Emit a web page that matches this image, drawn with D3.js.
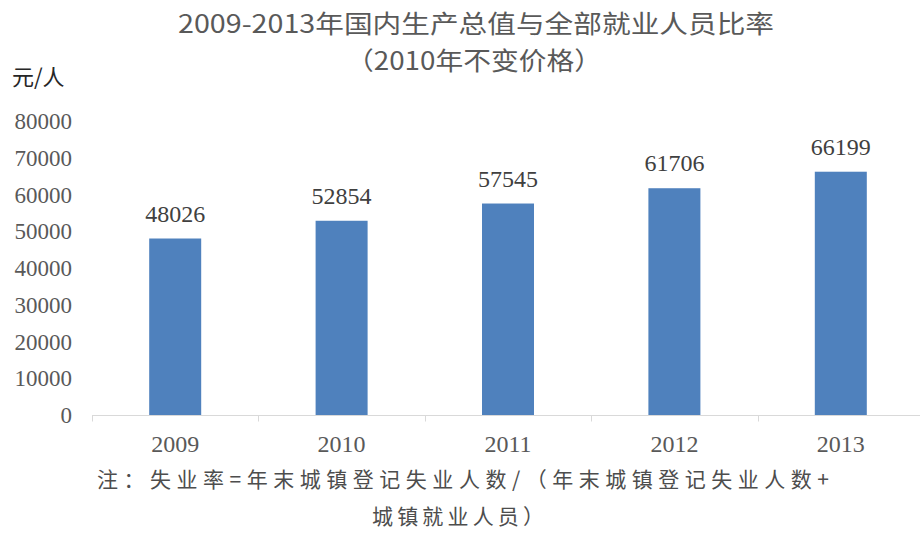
<!DOCTYPE html>
<html>
<head>
<meta charset="utf-8">
<script src="https://cdn.jsdelivr.net/npm/d3@7"></script>
<style>
  html, body { margin: 0; padding: 0; background: #fff; }
  svg { display: block; }
</style>
</head>
<body>
<svg id="chart" width="920" height="533"></svg>
<script>
const titleText = "2009-2013年国内生产总值与全部就业人员比率";
const subtitleText = "（2010年不变价格）";
const unitText = "元/人";
const noteLine1 = "注：失业率=年末城镇登记失业人数/（年末城镇登记失业人数+";
const noteLine2 = "城镇就业人员）";

const categories = ["2009", "2010", "2011", "2012", "2013"];
const values = [48026, 52854, 57545, 61706, 66199];
const yTicks = [0, 10000, 20000, 30000, 40000, 50000, 60000, 70000, 80000];

const svg = d3.select("#chart");
const cjk = "'Noto Sans CJK SC', 'Noto Sans', sans-serif";
const serif = "'Liberation Serif', 'DejaVu Serif', serif";

const x = d3.scaleBand().domain(categories).range([92, 92 + 5 * 166.4]).padding(0);
const y = d3.scaleLinear().domain([0, 80000]).range([415, 121]);

// Title
svg.append("text").attr("x", 476).attr("y", 33).attr("text-anchor", "middle")
  .attr("textLength", 596).attr("lengthAdjust", "spacingAndGlyphs")
  .attr("font-family", cjk).attr("font-size", 25).attr("fill", "#595959")
  .text(titleText);
svg.append("text").attr("x", 474).attr("y", 70).attr("text-anchor", "middle")
  .attr("textLength", 256).attr("lengthAdjust", "spacingAndGlyphs")
  .attr("font-family", cjk).attr("font-size", 25).attr("fill", "#595959")
  .text(subtitleText);

// Unit
svg.append("text").attr("x", 12).attr("y", 85)
  .attr("font-family", cjk).attr("font-size", 22).attr("fill", "#262626")
  .text(unitText);

// Y axis labels (no axis line)
svg.append("g").selectAll("text").data(yTicks).join("text")
  .attr("x", 72).attr("y", d => y(d)).attr("dy", "0.35em")
  .attr("text-anchor", "end")
  .attr("font-family", serif).attr("font-size", 23).attr("fill", "#595959")
  .text(d => d);

// Bars
const barW = x.bandwidth() * 0.3125;
svg.append("g").selectAll("rect").data(values).join("rect")
  .attr("x", (d, i) => x(categories[i]) + (x.bandwidth() - barW) / 2)
  .attr("y", d => y(d))
  .attr("width", barW)
  .attr("height", d => y(0) - y(d))
  .attr("fill", "#4f81bd");

// X axis
const xAxis = d3.axisBottom(x).tickSize(0).tickFormat(d => d);
const gx = svg.append("g").attr("transform", `translate(0,${y(0) + 0.5})`).call(xAxis);
gx.select(".domain").remove();
gx.selectAll("text").remove();
gx.append("line").attr("x1", x.range()[0]).attr("x2", 920).attr("y1", 0).attr("y2", 0)
  .attr("stroke", "#d9d9d9").attr("stroke-width", 1);
const bounds = categories.map(c => x(c)).concat([x.range()[1]]);
gx.selectAll(".bound").data(bounds).join("line").attr("class", "bound")
  .attr("x1", d => Math.round(d) + 0.5).attr("x2", d => Math.round(d) + 0.5)
  .attr("y1", 0).attr("y2", 6)
  .attr("stroke", "#d9d9d9").attr("stroke-width", 1);

svg.append("g").selectAll("text").data(categories).join("text")
  .attr("x", d => x(d) + x.bandwidth() / 2).attr("y", 452)
  .attr("text-anchor", "middle")
  .attr("font-family", serif).attr("font-size", 24).attr("fill", "#595959")
  .text(d => d);

// Data labels
svg.append("g").selectAll("text").data(values).join("text")
  .attr("x", (d, i) => x(categories[i]) + x.bandwidth() / 2)
  .attr("y", d => y(d) - 17)
  .attr("text-anchor", "middle")
  .attr("font-family", serif).attr("font-size", 24).attr("fill", "#404040")
  .text(d => d);

// Note
svg.append("text").attr("x", 97).attr("y", 487)
  .attr("textLength", 732).attr("lengthAdjust", "spacing")
  .attr("font-family", cjk).attr("font-size", 21).attr("fill", "#4d4d4d")
  .text(noteLine1);
svg.append("text").attr("x", 372).attr("y", 524)
  .attr("textLength", 172).attr("lengthAdjust", "spacing")
  .attr("font-family", cjk).attr("font-size", 21).attr("fill", "#4d4d4d")
  .text(noteLine2);
</script>
</body>
</html>
